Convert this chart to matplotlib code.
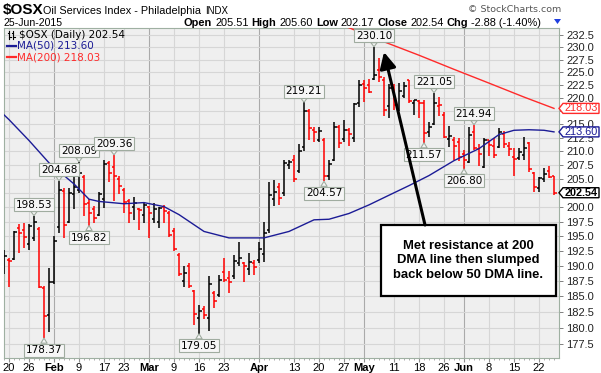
import matplotlib
matplotlib.use('Agg')
import matplotlib.pyplot as plt
import matplotlib.transforms as mtransforms
from matplotlib.collections import LineCollection
from matplotlib.patches import Polygon, Rectangle
from matplotlib.lines import Line2D
from matplotlib.ticker import FixedLocator, NullLocator, FixedFormatter
import numpy as np
import pandas as pd

# trading days on the chart (Jan 16 is the clipped first bar)
holidays = ['2015-01-19', '2015-02-16', '2015-04-03', '2015-05-25']
dates = [d.strftime('%Y-%m-%d') for d in pd.bdate_range('2015-01-16', '2015-06-25')
         if d.strftime('%Y-%m-%d') not in holidays]

opens = [189.5, 191.0, 191.2, 196.4, 196.1, 193.6, 194.7, 196.3, 186.4, 182.0,
         187.3, 196.5, 202.8, 197.5, 202.3, 203.0, 205.3, 200.8, 199.6, 198.6,
         201.5, 207.8, 207.2, 205.0, 203.0, 201.0, 200.0, 199.7, 198.7, 200.0,
         198.0, 197.5, 200.0, 199.0, 195.8, 191.8, 187.5, 190.0, 185.9, 181.5,
         183.0, 181.6, 185.5, 185.3, 189.0, 188.0, 188.3, 190.5, 190.5, 189.5,
         190.5, 191.0, 192.0, 196.0, 201.5, 203.5, 202.5, 207.5, 208.5, 206.5,
         210.8, 217.6, 214.0, 212.0, 212.0, 205.6, 208.5, 214.5, 212.2, 214.0,
         212.5, 219.0, 222.8, 222.5, 223.8, 225.5, 223.5, 218.5, 222.0, 218.0,
         220.5, 223.5, 219.0, 219.4, 219.0, 213.5, 215.0, 218.5, 216.8, 212.3,
         212.0, 211.8, 209.5, 208.0, 213.5, 210.5, 207.2, 212.0, 211.0, 210.8,
         213.2, 211.0, 209.0, 208.8, 209.3, 211.5, 206.0, 203.3, 205.0, 206.4,
         205.51]
highs = [192.6, 191.3, 195.9, 197.1, 197.3, 197.1, 198.53, 196.6, 186.7, 189.6,
         195.0, 204.68, 203.3, 203.4, 205.6, 208.09, 205.7, 201.4, 200.2, 202.7,
         208.5, 208.3, 209.36, 205.5, 203.3, 201.5, 201.7, 199.9, 200.7, 200.2,
         200.7, 200.1, 200.4, 199.3, 196.4, 192.2, 190.0, 190.5, 186.1, 183.6,
         183.5, 188.3, 185.8, 188.5, 191.3, 189.1, 191.8, 194.0, 190.7, 192.1,
         191.0, 194.0, 197.5, 204.4, 204.8, 204.3, 208.4, 208.5, 209.3, 211.4,
         219.21, 217.9, 214.6, 214.5, 212.4, 208.5, 215.5, 214.9, 215.9, 214.3,
         219.0, 223.5, 223.5, 223.7, 230.10, 227.8, 224.0, 222.8, 222.7, 223.0,
         223.2, 223.6, 219.7, 219.7, 219.7, 215.5, 221.05, 220.2, 217.4, 214.7,
         212.7, 212.4, 210.3, 214.6, 214.94, 211.3, 212.4, 212.1, 212.4, 214.3,
         213.7, 211.8, 210.6, 210.6, 212.7, 211.8, 206.3, 205.4, 206.9, 207.3,
         205.60]
lows = [188.6, 186.6, 191.0, 192.2, 193.0, 192.6, 194.1, 186.3, 178.37, 179.4,
        187.0, 195.5, 194.6, 197.2, 199.6, 202.5, 198.4, 196.82, 197.2, 198.4,
        199.8, 204.5, 201.0, 202.3, 198.9, 197.3, 197.8, 196.1, 197.2, 194.7,
        197.2, 196.4, 197.2, 194.9, 192.4, 188.3, 186.6, 186.3, 180.5, 179.05,
        181.3, 179.5, 183.1, 184.9, 187.4, 185.5, 187.9, 189.9, 187.4, 188.5,
        188.5, 190.5, 190.7, 195.5, 200.2, 200.4, 202.0, 206.7, 204.4, 206.0,
        210.0, 212.1, 211.8, 211.8, 204.57, 204.8, 208.3, 210.6, 211.8, 210.9,
        211.8, 218.3, 219.3, 220.9, 223.5, 223.1, 216.5, 216.3, 217.7, 217.5,
        220.0, 219.0, 216.8, 216.2, 211.57, 212.7, 214.8, 216.6, 212.4, 210.8,
        208.5, 208.3, 206.80, 207.9, 210.3, 207.4, 207.0, 209.2, 208.8, 210.6,
        210.6, 209.2, 205.6, 208.5, 208.5, 206.3, 202.7, 202.7, 204.5, 205.1,
        202.17]
closes = [191.6, 190.8, 195.7, 195.5, 194.8, 196.7, 197.5, 186.5, 181.8, 187.3,
          194.2, 203.0, 196.9, 202.5, 203.5, 206.0, 200.5, 198.9, 198.1, 202.3,
          207.6, 206.0, 205.6, 203.8, 200.9, 199.0, 200.7, 199.5, 200.4, 198.9,
          199.6, 199.8, 199.3, 195.2, 192.9, 188.6, 188.8, 186.7, 182.1, 182.6,
          182.0, 187.0, 184.2, 187.7, 187.6, 187.3, 190.8, 191.3, 189.9, 190.6,
          189.8, 192.8, 195.5, 202.2, 202.6, 201.6, 207.9, 208.1, 205.0, 210.0,
          217.5, 214.3, 213.5, 213.8, 205.6, 207.6, 214.6, 211.6, 214.0, 213.2,
          218.9, 222.5, 222.0, 221.2, 224.5, 224.0, 217.8, 222.0, 218.6, 221.4,
          222.3, 219.5, 219.6, 219.1, 213.3, 214.6, 219.0, 218.7, 212.6, 212.8,
          211.0, 208.9, 208.5, 213.0, 210.6, 209.5, 212.0, 211.2, 209.3, 213.6,
          211.3, 210.4, 208.6, 209.9, 210.6, 206.7, 203.5, 205.1, 205.9, 205.42,
          202.54]

# moving averages
ma50_dates = ['2015-01-16', '2015-01-20', '2015-01-26', '2015-01-30', '2015-02-06',
              '2015-02-11', '2015-02-13', '2015-02-23', '2015-02-27', '2015-03-05',
              '2015-03-10', '2015-03-17', '2015-03-24', '2015-03-30', '2015-04-02',
              '2015-04-10', '2015-04-17', '2015-04-22', '2015-04-28', '2015-05-04',
              '2015-05-08', '2015-05-14', '2015-05-20', '2015-05-28', '2015-06-04',
              '2015-06-10', '2015-06-15', '2015-06-18', '2015-06-23', '2015-06-25']
ma50 = [216.8, 215.9, 212.0, 207.9, 204.1, 201.4, 201.0, 200.6, 200.8, 200.1,
        198.7, 195.8, 194.7, 194.7, 194.7, 195.8, 197.8, 197.9, 198.9, 200.4,
        202.1, 203.8, 205.6, 208.3, 210.5, 213.1, 213.9, 214.0, 213.9, 213.60]
ma200_dates = ['2015-04-24', '2015-04-28', '2015-05-07', '2015-05-18', '2015-05-28',
               '2015-06-08', '2015-06-17', '2015-06-25']
ma200 = [234.6, 233.95, 231.1, 228.4, 225.6, 222.9, 220.2, 218.03]

# labelled swing highs / lows
extremes = [('2015-01-27', 'high'), ('2015-01-29', 'low'), ('2015-02-03', 'high'),
            ('2015-02-09', 'high'), ('2015-02-11', 'low'), ('2015-02-19', 'high'),
            ('2015-03-16', 'low'), ('2015-04-15', 'high'), ('2015-04-21', 'low'),
            ('2015-05-05', 'high'), ('2015-05-19', 'low'), ('2015-05-21', 'high'),
            ('2015-06-01', 'low'), ('2015-06-03', 'high')]

tick_dates = ['2015-01-20', '2015-01-26', '2015-02-02', '2015-02-09', '2015-02-17',
              '2015-02-23', '2015-03-02', '2015-03-09', '2015-03-16', '2015-03-23',
              '2015-04-01', '2015-04-13', '2015-04-20', '2015-04-27', '2015-05-01',
              '2015-05-11', '2015-05-18', '2015-05-26', '2015-06-01', '2015-06-08',
              '2015-06-15', '2015-06-22']
tick_labels = ['20', '26', 'Feb', '9', '17', '23', 'Mar', '9', '16', '23', 'Apr',
               '13', '20', '27', 'May', '11', '18', '26', 'Jun', '8', '15', '22']

price_ticks = np.arange(177.5, 233, 2.5)

note = 'Met resistance at 200\nDMA line then slumped\nback below 50 DMA line.'

W, H = 601, 373
fig = plt.figure(figsize=(W / 100, H / 100), dpi=100)
ident = mtransforms.IdentityTransform()

left, right, top, bottom = 4, 559, 28, 358
ax = fig.add_axes([left / W, 1 - bottom / H, (right - left) / W, (bottom - top) / H])
ax.set_facecolor('#efefef')
ax.set_yscale('log')
ax.set_xlim(0, len(dates))
ax.set_ylim(175.3, 233.9)
for s in ax.spines.values():
    s.set_color('#9fb0a2')
    s.set_linewidth(0.8)

# price axis on the right; labels hidden under the value tags are left blank
tagged = [ma200[-1], ma50[-1], closes[-1]]
ylabels = ['' if min(abs(p - v) for v in tagged) < 0.6 else f'{p:.1f}' for p in price_ticks]
ax.yaxis.tick_right()
ax.yaxis.set_major_locator(FixedLocator(price_ticks))
ax.yaxis.set_minor_locator(NullLocator())
ax.yaxis.set_major_formatter(FixedFormatter(ylabels))
ax.tick_params(axis='y', length=3, width=0.7, color='#808080', pad=2, labelsize=8,
               labelfontfamily='Liberation Sans', labelcolor='#222222')
ax.yaxis.grid(True, color='#d6d6d6', lw=0.8)
ax.set_axisbelow(True)

# time axis
xpos = [dates.index(d) for d in tick_dates]
ax.xaxis.set_major_locator(FixedLocator(xpos))
ax.xaxis.set_minor_locator(FixedLocator(range(len(dates))))
ax.set_xticklabels(tick_labels)
ax.tick_params(axis='x', which='major', length=3, color='#909090', pad=0.5, labelsize=8,
               labelfontfamily='Liberation Sans')
ax.tick_params(axis='x', which='minor', length=1.5, color='#a0a0a0')
for x, lab, t in zip(xpos, tick_labels, ax.get_xticklabels()):
    month = lab.isalpha()
    ax.axvline(x, color='#aaaaaa' if month else '#d6d6d6', lw=0.8, zorder=0.5)
    if month:
        t.set_fontweight('bold')

# OHLC bars, black when the close is up on the day, red when down
segs, cols = [], []
for i in range(len(dates)):
    up = i == 0 or closes[i] >= closes[i - 1]
    c = 'black' if up else '#ff0000'
    segs += [[(i, lows[i]), (i, highs[i])],
             [(i - 0.5, opens[i]), (i, opens[i])],
             [(i, closes[i]), (i + 0.5, closes[i])]]
    cols += [c] * 3
ax.add_collection(LineCollection(segs, colors=cols, linewidths=1.1, zorder=3))

# moving averages
ax.plot([dates.index(d) for d in ma50_dates], ma50, color='#1c1c96', lw=1.0, zorder=4)
ax.plot([dates.index(d) for d in ma200_dates], ma200, color='#ff2a2a', lw=1.0, zorder=4)

# swing labels
lab_style = dict(boxstyle='square,pad=0.15', fc='#f6f6f6', ec='#a0aca0', lw=0.8)
for d, kind in extremes:
    i = dates.index(d)
    v = highs[i] if kind == 'high' else lows[i]
    off = 11 if kind == 'high' else -12
    ax.annotate(f'{v:.2f}', xy=(i, v), xytext=(0, off), textcoords='offset pixels',
                ha='center', va='center', fontsize=7.5, family='DejaVu Sans', zorder=5,
                bbox=lab_style,
                arrowprops=dict(arrowstyle='wedge,tail_width=0.6', fc='#f6f6f6',
                                ec='#a0aca0', lw=0.8, shrinkA=0, shrinkB=0))

# comment box and arrow
ax.add_patch(Rectangle((0.679, 0.188), 0.3156, 0.215, transform=ax.transAxes,
                       fc='white', ec='black', lw=1.6, zorder=6))
ax.text(0.8368, 0.2955, note, transform=ax.transAxes, ha='center', va='center',
        fontsize=9.4, fontweight='bold', linespacing=1.25, zorder=7,
        family=['Liberation Sans Narrow', 'Liberation Sans'])
ax.annotate('', xy=(0.6847, 0.927), xytext=(0.7586, 0.403), xycoords='axes fraction',
            arrowprops=dict(arrowstyle='-|>,head_length=0.7,head_width=0.35', lw=2.2,
                            color='black', shrinkA=0, shrinkB=0, mutation_scale=14),
            zorder=6)


def px(x, y):
    return x, H - y


# value tags on the price axis
def value_tag(val, color, bold=False):
    x0, y0 = ax.get_yaxis_transform().transform((1, val))
    h = 5
    pts = [(x0, y0), (x0 + 4, y0 + h), (x0 + 40, y0 + h), (x0 + 40, y0 - h), (x0 + 4, y0 - h)]
    fig.add_artist(Polygon(pts, closed=True, transform=ident, fc='white', ec=color,
                           lw=1.0, zorder=5))
    fig.text(x0 + 22, y0, f'{val:.2f}', transform=ident, ha='center', va='center',
             fontsize=7.8, color=color, fontweight='bold' if bold else 'normal',
             family='Liberation Sans', zorder=6)


value_tag(ma200[-1], '#ff2a2a')
value_tag(ma50[-1], '#1c1c96')
value_tag(closes[-1], 'black', bold=True)

# header
fig.text(*px(3, 14), '$OSX', transform=ident, fontsize=11, fontweight='bold',
         family='Liberation Sans', parse_math=False)
fig.text(*px(43, 14), 'Oil Services Index - Philadelphia', transform=ident, fontsize=7.8,
         family='Liberation Sans')
fig.text(*px(205, 13.5), 'INDX', transform=ident, fontsize=7, family='Liberation Sans')
fig.text(*px(4, 26), pd.Timestamp(dates[-1]).strftime('%d-%b-%Y'), transform=ident,
         fontsize=7.6, family='Liberation Sans')
fig.text(*px(561, 12), '\u00a9 StockCharts.com', transform=ident, fontsize=6.8,
         family='DejaVu Sans', color='#555555', ha='right')

chg = closes[-1] - closes[-2]
parts = [('Open', 'bold'), (f'{opens[-1]:.2f}', 'normal'), ('High', 'bold'),
         (f'{highs[-1]:.2f}', 'normal'), ('Low', 'bold'), (f'{lows[-1]:.2f}', 'normal'),
         ('Close', 'bold'), (f'{closes[-1]:.2f}', 'normal'), ('Chg', 'bold'),
         (f'{chg:.2f} ({chg / closes[-2] * 100:.2f}%)', 'normal')]
renderer = fig.canvas.get_renderer()
x = 184
for s, w in parts:
    t = fig.text(*px(x, 26), s, transform=ident, fontsize=7.9, fontweight=w,
                 family='Liberation Sans')
    x = t.get_window_extent(renderer).x1 + 3
fig.add_artist(Polygon([px(554, 19), px(561, 19), px(557.5, 24)], closed=True,
                       transform=ident, fc='#1f3fe0', ec='none'))

# legend inside the chart
for bx in (9, 13):
    fig.add_artist(Line2D([bx, bx], [H - 31, H - 39], transform=ident, color='black', lw=0.8))
    fig.add_artist(Line2D([bx - 1.5, bx], [H - 33, H - 33], transform=ident, color='black', lw=0.8))
    fig.add_artist(Line2D([bx, bx + 1.5], [H - 37, H - 37], transform=ident, color='black', lw=0.8))
fig.text(*px(19, 35), f'$OSX (Daily) {closes[-1]:.2f}', transform=ident, va='center',
         fontsize=7.5, family='DejaVu Sans', parse_math=False)
fig.add_artist(Line2D([7, 16], [H - 46, H - 46], transform=ident, color='#1c1c96', lw=1.6))
fig.text(*px(17, 46), f'MA(50) {ma50[-1]:.2f}', transform=ident, va='center',
         fontsize=7.5, family='DejaVu Sans', color='#1c1c96')
fig.add_artist(Line2D([7, 16], [H - 57, H - 57], transform=ident, color='#ff2a2a', lw=1.6))
fig.text(*px(17, 57), f'MA(200) {ma200[-1]:.2f}', transform=ident, va='center',
         fontsize=7.5, family='DejaVu Sans', color='#ff2a2a')

fig.savefig('out.png', dpi=100, facecolor='white')
